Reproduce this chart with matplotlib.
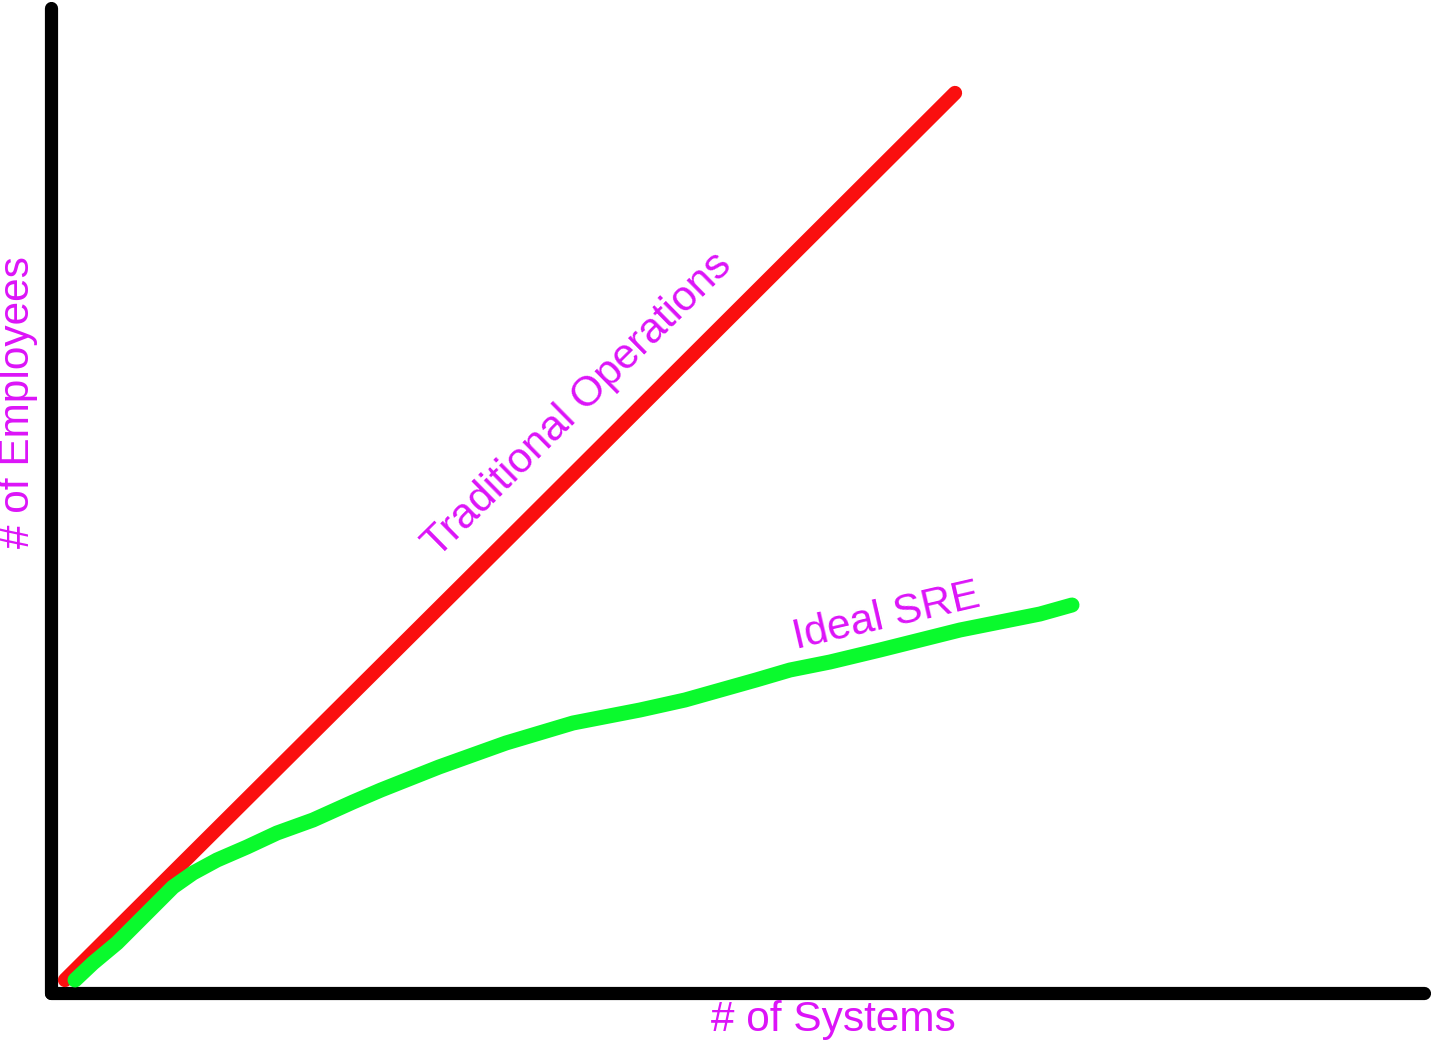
import matplotlib
matplotlib.use("Agg")
import matplotlib.pyplot as plt

# Data (arbitrary units: systems vs employees)
trad_x = [14, 459, 904]
trad_y = [13, 456, 900]

sre_x = [24, 42, 66, 89, 109, 122, 142, 166, 196, 226, 262, 302, 330, 388, 455,
         522, 589, 634, 705, 739, 779, 829, 869, 909, 949, 989, 1021]
sre_y = [13, 30, 50, 73, 93, 106, 120, 133, 146, 160, 173, 191, 203, 226, 250,
         270, 283, 293, 313, 323, 331, 343, 353, 363, 371, 379, 388]

x_label = "# of Systems"
y_label = "# of Employees"
trad_label = "Traditional Operations"
sre_label = "Ideal SRE"

W, H = 1431, 1046
fig = plt.figure(figsize=(W / 100, H / 100), dpi=100)
ax = fig.add_axes([51 / W, 53 / H, 1373 / W, 985 / H])
ax.set_xlim(0, 1373)
ax.set_ylim(0, 985)

for s in ["top", "right"]:
    ax.spines[s].set_visible(False)
for s in ["left", "bottom"]:
    ax.spines[s].set_linewidth(9.5)
    ax.spines[s].set_color("black")
    ax.spines[s].set_capstyle("round")
ax.set_xticks([])
ax.set_yticks([])

red = "#fa0f0f"
green = "#0afa2d"
mag = "#dc14f8"

ax.plot(trad_x, trad_y, color=red, lw=10.3, solid_capstyle="round",
        solid_joinstyle="round", clip_on=False, zorder=3)
ax.plot(sre_x, sre_y, color=green, lw=10.8, solid_capstyle="round",
        solid_joinstyle="round", clip_on=False, zorder=4)

font = "Liberation Sans"
ax.text(527, 588, trad_label, rotation=44.6, rotation_mode="anchor",
        ha="center", va="center", color=mag, fontsize=30.5, family=font, clip_on=False)
ax.text(835, 376, sre_label, rotation=13, rotation_mode="anchor",
        ha="center", va="center", color=mag, fontsize=30.5, family=font, clip_on=False)
ax.text(782, -27, x_label, ha="center", va="center", color=mag,
        fontsize=30.5, family=font, clip_on=False)
ax.text(-33, 591, y_label, rotation=90, rotation_mode="anchor", ha="center",
        va="center", color=mag, fontsize=30.5, family=font, clip_on=False)

fig.savefig("out.png", dpi=100, facecolor="white")
